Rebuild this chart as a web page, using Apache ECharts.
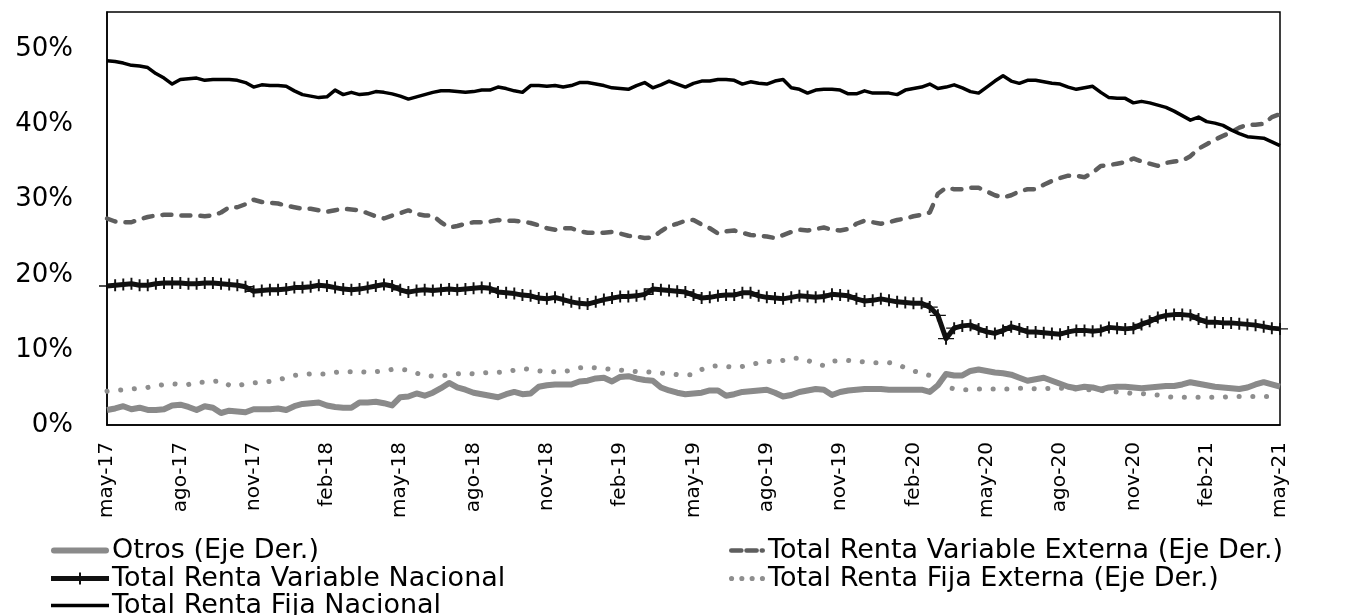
<!DOCTYPE html>
<html>
<head>
<meta charset="utf-8">
<script src="https://cdn.jsdelivr.net/npm/echarts@6/dist/echarts.min.js"></script>
<style>
  html, body { margin: 0; padding: 0; background: #fff; }
  #chart { width: 1353px; height: 615px; }
</style>
</head>
<body>
<div id="chart"></div>
<script>
// Spanish month abbreviations used for the time-axis labels
const monthNames = ['ene', 'feb', 'mar', 'abr', 'may', 'jun', 'jul', 'ago', 'sep', 'oct', 'nov', 'dic'];

// Observation dates: three per month (days 1, 11, 21), May 2017 to May 2021
const categories = [];
for (let m = 0; m <= 48; m++) {
  const year = 2017 + Math.floor((4 + m) / 12);
  const month = (4 + m) % 12 + 1;
  const days = m === 48 ? [1] : [1, 11, 21];
  days.forEach(d => categories.push(year + '-' + String(month).padStart(2, '0') + '-' + String(d).padStart(2, '0')));
}

// Portfolio shares (%)
const otros = [
  2.0,2.2,2.5,2.1,2.3,2.0,2.0,2.1,2.6,2.7,
  2.4,2.0,2.5,2.3,1.6,1.9,1.8,1.7,2.1,2.1,
  2.1,2.2,2.0,2.5,2.8,2.9,3.0,2.6,2.4,2.3,
  2.3,3.0,3.0,3.1,2.9,2.6,3.7,3.8,4.2,3.9,
  4.3,4.9,5.6,5.0,4.7,4.3,4.1,3.9,3.7,4.1,
  4.4,4.1,4.2,5.1,5.3,5.4,5.4,5.4,5.8,5.9,
  6.2,6.3,5.8,6.4,6.5,6.2,6.0,5.9,5.0,4.6,
  4.3,4.1,4.2,4.3,4.6,4.6,3.9,4.1,4.4,4.5,
  4.6,4.7,4.3,3.8,4.0,4.4,4.6,4.8,4.7,4.0,
  4.4,4.6,4.7,4.8,4.8,4.8,4.7,4.7,4.7,4.7,
  4.7,4.4,5.3,6.8,6.6,6.6,7.2,7.4,7.2,7.0,
  6.9,6.7,6.3,5.9,6.1,6.3,5.9,5.5,5.1,4.9,
  5.1,5.0,4.7,5.0,5.1,5.1,5.0,4.9,5.0,5.1,
  5.2,5.2,5.4,5.7,5.5,5.3,5.1,5.0,4.9,4.8,
  5.0,5.4,5.7,5.4,5.1
];

const rvExterna = [
  27.5,27.1,27.0,27.0,27.4,27.7,27.9,28.0,28.0,27.9,
  27.9,27.9,27.8,27.9,28.3,29.0,29.0,29.4,30.0,29.7,
  29.6,29.5,29.2,29.0,28.8,28.8,28.6,28.4,28.6,28.8,
  28.7,28.6,28.2,27.8,27.5,27.9,28.2,28.6,28.1,27.9,
  27.9,27.0,26.3,26.5,26.8,27.0,27.0,27.1,27.3,27.2,
  27.2,27.1,26.9,26.6,26.2,26.0,26.2,26.2,25.8,25.6,
  25.6,25.6,25.7,25.5,25.2,25.1,24.9,25.0,25.8,26.5,
  26.8,27.2,27.3,26.7,26.2,25.5,25.8,25.9,25.6,25.3,
  25.2,25.1,24.9,25.3,25.7,26.0,25.9,26.1,26.3,26.0,
  25.9,26.1,26.8,27.2,27.0,26.8,27.0,27.3,27.5,27.8,
  28.0,28.3,30.8,31.6,31.4,31.4,31.6,31.6,31.1,30.6,
  30.3,30.6,31.1,31.4,31.4,32.0,32.5,32.9,33.2,33.2,
  33.0,33.6,34.5,34.6,34.8,35.0,35.5,35.1,34.8,34.5,
  34.9,35.1,35.2,35.8,36.8,37.4,38.0,38.5,39.0,39.6,
  40.0,40.0,40.1,41.0,41.4
];

const rvNacional = [
  18.5,18.6,18.7,18.8,18.6,18.6,18.8,18.9,18.9,18.9,
  18.8,18.8,18.9,18.9,18.8,18.7,18.6,18.4,17.8,17.9,
  18.0,18.0,18.1,18.3,18.3,18.4,18.6,18.5,18.3,18.1,
  18.0,18.1,18.3,18.5,18.7,18.5,18.0,17.7,17.9,18.0,
  17.9,18.0,18.1,18.0,18.1,18.2,18.3,18.2,17.7,17.6,
  17.5,17.3,17.2,16.9,16.8,17.0,16.7,16.4,16.2,16.1,
  16.4,16.7,16.9,17.1,17.1,17.2,17.4,18.1,18.0,17.9,
  17.8,17.7,17.3,16.9,17.0,17.2,17.3,17.3,17.6,17.6,
  17.2,17.0,16.9,16.8,17.0,17.2,17.1,17.0,17.1,17.4,
  17.3,17.2,16.8,16.5,16.6,16.8,16.6,16.4,16.3,16.2,
  16.2,15.7,14.6,11.5,12.9,13.2,13.3,12.8,12.4,12.2,
  12.6,13.1,12.8,12.4,12.4,12.3,12.2,12.1,12.4,12.6,
  12.6,12.5,12.6,13.0,12.9,12.8,12.9,13.4,13.8,14.3,
  14.6,14.7,14.7,14.6,14.1,13.7,13.7,13.6,13.6,13.5,
  13.4,13.3,13.1,12.9,12.8
];

const rfExterna = [
  4.5,4.6,4.7,4.8,4.9,5.0,5.2,5.4,5.5,5.4,
  5.4,5.7,5.7,5.8,5.9,5.3,5.2,5.5,5.6,5.7,
  5.8,6.0,6.3,6.6,6.7,6.8,6.8,6.8,7.0,7.1,
  7.1,7.1,7.0,7.1,7.2,7.4,7.4,7.3,6.9,6.6,
  6.5,6.6,6.6,6.8,6.9,6.8,6.9,7.0,7.0,7.1,
  7.3,7.5,7.4,7.2,7.1,7.1,7.1,7.3,7.6,7.7,
  7.6,7.5,7.4,7.3,7.2,7.1,7.1,7.0,6.9,6.8,
  6.7,6.7,6.7,7.4,7.8,7.9,7.8,7.7,7.8,8.0,
  8.3,8.5,8.4,8.6,8.9,8.9,8.6,8.2,7.9,8.5,
  8.6,8.6,8.5,8.4,8.3,8.3,8.3,8.1,7.6,7.2,
  6.9,6.6,6.0,5.1,4.8,4.7,4.7,4.8,4.8,4.8,
  4.8,4.8,4.9,4.9,4.8,4.8,4.9,4.9,4.8,4.8,
  4.7,4.7,4.6,4.5,4.4,4.3,4.2,4.2,4.1,4.0,
  3.8,3.7,3.7,3.7,3.7,3.7,3.7,3.7,3.8,3.8,
  3.8,3.8,3.8,3.8,3.8
];

const rfNacional = [
  48.5,48.4,48.2,47.9,47.8,47.6,46.8,46.2,45.4,46.0,
  46.1,46.2,45.9,46.0,46.0,46.0,45.9,45.6,45.0,45.3,
  45.2,45.2,45.1,44.5,44.0,43.8,43.6,43.7,44.6,44.0,
  44.3,44.0,44.1,44.4,44.3,44.1,43.8,43.4,43.7,44.0,
  44.3,44.5,44.5,44.4,44.3,44.4,44.6,44.6,45.0,44.8,
  44.5,44.3,45.2,45.2,45.1,45.2,45.0,45.2,45.6,45.6,
  45.4,45.2,44.9,44.8,44.7,45.2,45.6,44.9,45.3,45.8,
  45.4,45.0,45.5,45.8,45.8,46.0,46.0,45.9,45.4,45.7,
  45.5,45.4,45.8,46.0,44.9,44.7,44.2,44.6,44.7,44.7,
  44.6,44.1,44.1,44.5,44.2,44.2,44.2,44.0,44.6,44.8,
  45.0,45.4,44.8,45.0,45.3,44.9,44.4,44.2,45.0,45.8,
  46.5,45.8,45.5,45.9,45.9,45.7,45.5,45.4,45.0,44.7,
  44.9,45.1,44.3,43.6,43.5,43.5,42.9,43.1,42.9,42.6,
  42.3,41.8,41.2,40.6,41.0,40.4,40.2,39.9,39.3,38.8,
  38.4,38.3,38.2,37.7,37.2
];

const names = {
  otros: 'Otros (Eje Der.)',
  rvExt: 'Total Renta Variable Externa (Eje Der.)',
  rvNac: 'Total Renta Variable Nacional',
  rfExt: 'Total Renta Fija Externa (Eje Der.)',
  rfNac: 'Total Renta Fija Nacional'
};

const FONT = 'DejaVu Sans';
const COLORS = { otros: '#8a8a8a', rvExt: '#5e5e5e', rvNac: '#111111', rfExt: '#8e8e8e', rfNac: '#000000' };

// "+" marker drawn on every point of the domestic equity line
const plusSymbol = 'path://M0,44 L100,44 L100,56 L0,56 Z M44,0 L56,0 L56,100 L44,100 Z';

// Legend swatches that reproduce each line style
function dots(n, r, step) {
  let p = '';
  for (let k = 0; k < n; k++) {
    const cx = r + k * step;
    p += 'M' + (cx - r) + ',' + r + ' A' + r + ',' + r + ' 0 1 1 ' + (cx + r) + ',' + r +
         ' A' + r + ',' + r + ' 0 1 1 ' + (cx - r) + ',' + r + ' Z ';
  }
  return 'path://' + p;
}
const icons = {
  otros: 'path://M3,0 L55,0 A3,3 0 0 1 55,6 L3,6 A3,3 0 0 1 3,0 Z',
  rvNac: 'path://M0,3.5 L58,3.5 L58,8.5 L0,8.5 Z M28,0 L30,0 L30,12 L28,12 Z',
  rfNac: 'path://M0,0 L58,0 L58,3.5 L0,3.5 Z',
  rvExt: 'path://M2,0 L12,0 A2.2,2.2 0 0 1 12,4.4 L2,4.4 A2.2,2.2 0 0 1 2,0 Z M17,0 L27,0 A2.2,2.2 0 0 1 27,4.4 L17,4.4 A2.2,2.2 0 0 1 17,0 Z M32,0 L33,0 A2.2,2.2 0 0 1 33,4.4 L32,4.4 A2.2,2.2 0 0 1 32,0 Z',
  rfExt: dots(4, 2.4, 9.6)
};

// One legend block per entry so the two-column arrangement is exact
const legendSlots = [
  { key: 'otros', left: 51,  top: 537, w: 58 },
  { key: 'rvExt', left: 729, top: 537, w: 36 },
  { key: 'rvNac', left: 51,  top: 565, w: 58 },
  { key: 'rfExt', left: 729, top: 565, w: 36 },
  { key: 'rfNac', left: 51,  top: 592, w: 58 }
];
const legends = legendSlots.map(s => ({
  orient: 'horizontal', left: s.left, top: s.top, padding: 0,
  itemWidth: s.w, itemHeight: 14, itemGap: 0, selectedMode: false,
  textStyle: { fontFamily: FONT, fontSize: 27, color: '#000', lineHeight: 27, padding: [0, 0, 0, -2] },
  data: [{
    name: names[s.key], icon: icons[s.key],
    itemStyle: { color: COLORS[s.key], borderWidth: 0 }
  }]
}));

const chart = echarts.init(document.getElementById('chart'), null, { renderer: 'canvas' });

chart.setOption({
  animation: false,
  backgroundColor: '#ffffff',
  textStyle: { fontFamily: FONT, color: '#000' },
  grid: {
    left: 107, right: 73, top: 12, bottom: 190,
    show: true, borderColor: '#000', borderWidth: 1.5, backgroundColor: 'transparent'
  },
  legend: legends,
  xAxis: {
    type: 'category',
    data: categories,
    boundaryGap: false,
    axisLine: { show: true, lineStyle: { color: '#000', width: 1.5 } },
    axisTick: { show: false },
    splitLine: { show: false },
    axisLabel: {
      interval: 8,
      rotate: 90,
      margin: 17,
      fontFamily: FONT,
      fontSize: 20,
      color: '#000',
      formatter: function (v) {
        const p = v.split('-');
        return monthNames[parseInt(p[1], 10) - 1] + '-' + p[0].slice(2);
      }
    }
  },
  yAxis: {
    type: 'value',
    min: 0, max: 55, interval: 10,
    axisLine: { show: true, lineStyle: { color: '#000', width: 1.5 } },
    axisTick: { show: false },
    splitLine: { show: false },
    axisLabel: {
      formatter: '{value}%',
      showMaxLabel: false,
      margin: 34,
      fontFamily: FONT,
      fontSize: 26,
      color: '#000'
    }
  },
  series: [
    {
      name: names.rfExt, type: 'line', data: rfExterna, symbol: 'none', z: 2,
      lineStyle: { width: 5, color: COLORS.rfExt, type: [0.1, 13.6], cap: 'round' },
      itemStyle: { color: COLORS.rfExt }
    },
    {
      name: names.otros, type: 'line', data: otros, symbol: 'none', z: 3,
      lineStyle: { width: 6, color: COLORS.otros, join: 'round' },
      itemStyle: { color: COLORS.otros }
    },
    {
      name: names.rvExt, type: 'line', data: rvExterna, symbol: 'none', z: 3,
      lineStyle: { width: 4.5, color: COLORS.rvExt, type: [9, 10], cap: 'round' },
      itemStyle: { color: COLORS.rvExt }
    },
    {
      name: names.rfNac, type: 'line', data: rfNacional, symbol: 'none', z: 4,
      lineStyle: { width: 3.5, color: COLORS.rfNac, join: 'round' },
      itemStyle: { color: COLORS.rfNac }
    },
    {
      name: names.rvNac, type: 'line', data: rvNacional, z: 5,
      symbol: plusSymbol, symbolSize: [16, 12], showSymbol: true, showAllSymbol: true,
      lineStyle: { width: 5, color: COLORS.rvNac, join: 'round' },
      itemStyle: { color: COLORS.rvNac, borderWidth: 0 }
    }
  ]
});
</script>
</body>
</html>
